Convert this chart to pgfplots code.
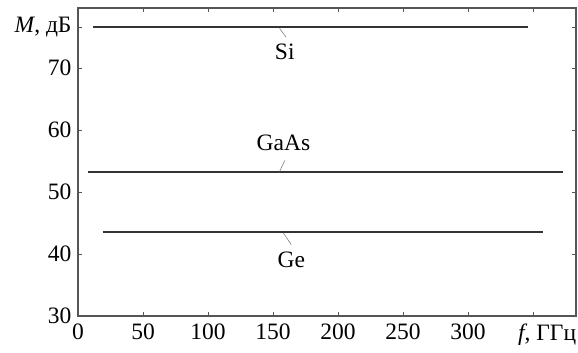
\documentclass[border=0pt]{standalone}
\usepackage{fontspec}
\setmainfont{Liberation Serif}
\usepackage{pgfplots}
\pgfplotsset{compat=1.18}
\definecolor{ln}{HTML}{333333}
\definecolor{ax}{HTML}{555555}
\begin{document}
\begin{tikzpicture}
\begin{axis}[
  name=ax,
  scale only axis, width=498pt, height=308pt,
  xmin=0, xmax=383, ymin=30, ymax=79.7,
  xtick={0,50,100,150,200,250,300,350},
  xticklabels={0,50,100,150,200,250,300,{\hspace*{28pt}\textit{f}, ГГц}},
  ytick={30,40,50,60,70,76.6},
  yticklabels={30,40,50,60,70,{\textit{M}, дБ}},
  tick align=inside, major tick length=4pt,
  tick style={ax, line width=0.8pt},
  axis line style={ax, line width=1.4pt},
  /pgf/number format/assume math mode=true,
  ticklabel style={font=\fontsize{23.5}{27}\selectfont},
  xticklabel style={yshift=-4pt},
  yticklabel style={xshift=-3pt},
  clip=false,
]
\addplot[ln, line width=1.6pt] coordinates {(11.5,76.6) (346,76.6)};
\addplot[ln, line width=1.6pt] coordinates {(7.7,53.2) (373,53.2)};
\addplot[ln, line width=1.6pt] coordinates {(19,43.6) (358,43.6)};
\draw[gray, line width=0.6pt] (axis cs:155,76.4) -- (axis cs:160,75);
\draw[gray, line width=0.6pt] (axis cs:155,53.3) -- (axis cs:159,55.1);
\draw[gray, line width=0.6pt] (axis cs:158,43.4) -- (axis cs:164,41.5);
\node[font=\fontsize{23.5}{27}\selectfont] at (axis cs:159,72.6) {Si};
\node[font=\fontsize{23.5}{27}\selectfont] at (axis cs:158,57.9) {GaAs};
\node[font=\fontsize{23.5}{27}\selectfont] at (axis cs:164,39) {Ge};
\end{axis}
\pgfresetboundingbox
\path[use as bounding box] ([xshift=-78pt,yshift=-36pt]ax.south west) rectangle ([xshift=2pt,yshift=8pt]ax.north east);
\end{tikzpicture}
\end{document}
